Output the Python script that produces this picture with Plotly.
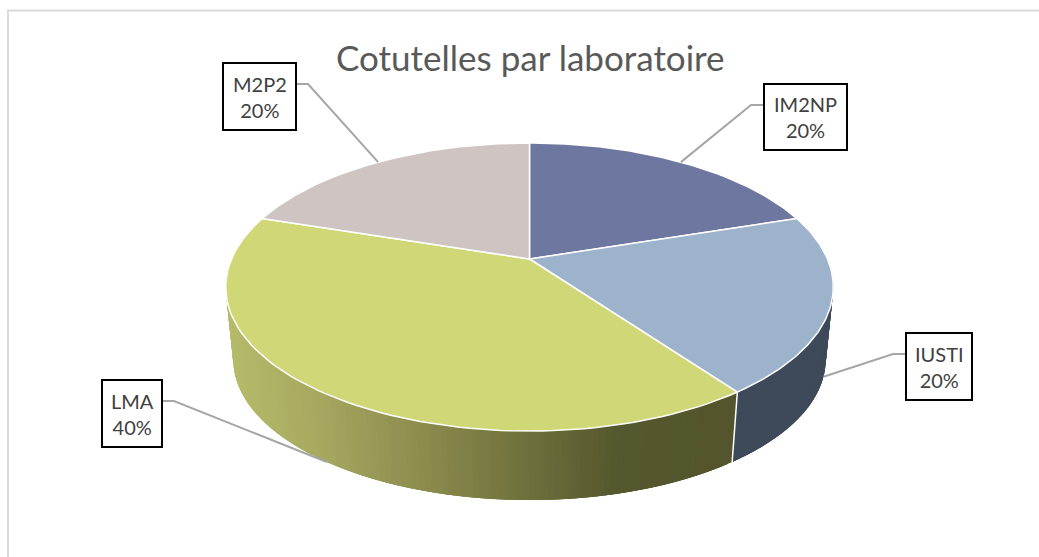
import numpy as np
import plotly.graph_objects as go

# Valeurs du graphique, dans le sens horaire depuis midi
labs = ['IM2NP', 'IUSTI', 'LMA', 'M2P2']
valeurs = [20, 20, 40, 20]
titre = 'Cotutelles par laboratoire'

couleurs_dessus = ['#6E779F', '#9DB3CB', '#D0D777', '#CEC5C2']
couleur_texte = '#404040'
couleur_titre = '#595959'
couleur_trait = '#A6A6A6'
couleur_cadre = '#D9D9D9'

# Dégradé du flanc de LMA, de gauche à droite
degrade_x = [230, 330, 420, 520, 630, 735]
degrade_rgb = [(181, 187, 106), (165, 168, 95), (143, 143, 80),
               (116, 118, 63), (85, 87, 46), (84, 85, 44)]
flanc_iusti = '#3E4A59'

# Projection en perspective du disque (en pixels de la page)
CX, CY = 529.5, 259
A, B, P = 298, 138.6, 0.1944
ECHELLE_BAS, FUITE_Y = 0.975, 3191

# Boîtes des étiquettes : x0, y0, x1, y1
boites = {
    'IM2NP': (764, 84, 847, 150),
    'IUSTI': (906, 333, 972, 400),
    'LMA': (102, 380, 162, 447),
    'M2P2': (223, 63, 296, 130),
}


def projette(theta):
    t = np.radians(theta)
    d = 1 + P * np.cos(t)
    return CX + A * np.sin(t) / d, CY - B * np.cos(t) / d


def projette_bas(theta):
    x, y = projette(theta)
    return CX + (x - CX) * ECHELLE_BAS, FUITE_Y + (y - FUITE_Y) * ECHELLE_BAS


def couleur_degrade(x):
    r, g, b = [np.interp(x, degrade_x, [c[i] for c in degrade_rgb]) for i in range(3)]
    return f'rgb({r:.0f},{g:.0f},{b:.0f})'


def polygone(x, y, couleur, ligne=None, largeur=0):
    return go.Scatter(x=x, y=y, mode='lines', fill='toself', fillcolor=couleur,
                      line=dict(color=ligne or couleur, width=largeur),
                      hoverinfo='skip', showlegend=False)


def bande(a0, a1, couleur):
    ah = np.array([a0, (a0 + a1) / 2, a1])
    xh, yh = projette(ah)
    xb, yb = projette_bas(ah[::-1])
    return polygone([*xh, *xb, xh[0]], [*yh, *yb, yh[0]], couleur)


def flanc(theta0, theta1, couleur=None):
    # Les bandes se recouvrent : on part de la fin pour éviter les joints visibles
    angles = np.arange(theta0, theta1, 1.0)
    traces = []
    for a0 in angles:
        xm = (projette(a0)[0] + projette(a0 + 1)[0]) / 2
        traces.append(bande(a0, min(a0 + 3, theta1), couleur or couleur_degrade(xm)))
    return traces[::-1]


total = sum(valeurs)
bornes = np.cumsum([0] + valeurs) / total * 360
milieux = (bornes[:-1] + bornes[1:]) / 2

fig = go.Figure()

# Flancs visibles
for i, lab in enumerate(labs):
    if lab == 'IUSTI':
        fig.add_traces(flanc(bornes[i], bornes[i + 1], flanc_iusti))
    elif lab == 'LMA':
        fig.add_traces(flanc(bornes[i], bornes[i + 1]))

# Arête blanche entre IUSTI et LMA
xh, yh = projette(bornes[2])
xb, yb = projette_bas(bornes[2])
fig.add_trace(go.Scatter(x=[xh, xb], y=[yh, yb], mode='lines',
                         line=dict(color='white', width=1.5),
                         hoverinfo='skip', showlegend=False))

# Dessus du disque
for i, lab in enumerate(labs):
    angles = np.linspace(bornes[i], bornes[i + 1], 90)
    x, y = projette(angles)
    fig.add_trace(polygone([CX, *x, CX], [CY, *y, CY], couleurs_dessus[i], 'white', 1.5))

# Traits de rappel et étiquettes
for i, lab in enumerate(labs):
    x0, y0, x1, y1 = boites[lab]
    if lab in ('LMA', 'IUSTI'):
        xa, ya = projette_bas(milieux[i])
    else:
        xa, ya = projette(milieux[i])
    y_coude = y0 + 21
    if x1 < CX:
        xs = [x1, x1 + 12, xa]
    else:
        xs = [x0, x0 - 13, xa]
    fig.add_trace(go.Scatter(x=xs, y=[y_coude, y_coude, ya], mode='lines',
                             line=dict(color=couleur_trait, width=2),
                             hoverinfo='skip', showlegend=False))
    fig.add_shape(type='rect', x0=x0, x1=x1, y0=y0, y1=y1,
                  line=dict(color='black', width=2), fillcolor='white')
    fig.add_annotation(x=(x0 + x1) / 2, y=(y0 + y1) / 2, showarrow=False,
                       text=f'{lab}<br>{valeurs[i]}%', align='center',
                       font=dict(family='Lato', size=20, color=couleur_texte))

fig.add_annotation(x=530, y=57, text=titre, showarrow=False,
                   font=dict(family='Lato', size=35, color=couleur_titre))

# Cadre du graphique (ouvert en bas et à droite)
fig.add_trace(go.Scatter(x=[8, 8, 1039], y=[557, 10.5, 10.5], mode='lines',
                         line=dict(color=couleur_cadre, width=2),
                         hoverinfo='skip', showlegend=False))

fig.update_layout(
    width=1039, height=557,
    margin=dict(l=0, r=0, t=0, b=0),
    paper_bgcolor='white', plot_bgcolor='white',
    xaxis=dict(range=[0, 1039], visible=False),
    yaxis=dict(range=[557, 0], visible=False),
)

fig.write_html("out.html", config={'displayModeBar': False},
               post_script="document.body.style.margin='0';")
